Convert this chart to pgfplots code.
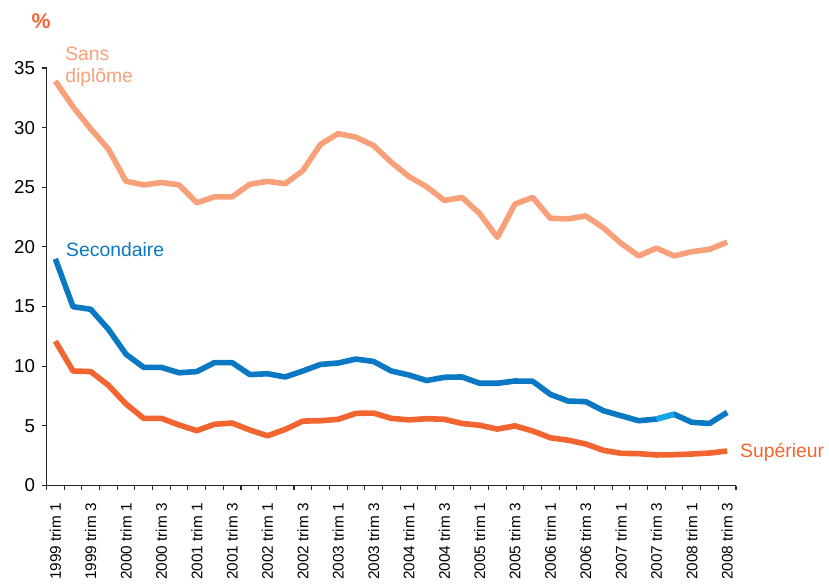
\documentclass[border=0pt]{standalone}
\usepackage{pgfplots}
\pgfplotsset{compat=1.18}
\usepackage{fontspec}
\setmainfont{Liberation Sans}
\definecolor{sansc}{HTML}{F7A07A}
\definecolor{secc}{HTML}{0A78C2}
\definecolor{secl}{HTML}{12A8E8}
\definecolor{supc}{HTML}{F26531}
\begin{document}
\begin{tikzpicture}[x=1pt,y=1pt]
\path[use as bounding box] (-34.875,-73.125) rectangle (586.875,364.125);
\begin{axis}[
  at={(0,0)}, anchor=south west,
  scale only axis, width=517.125pt, height=313.125pt,
  xmin=-0.5, xmax=38.5, ymin=0, ymax=35,
  axis x line=bottom, axis y line=left,
  axis line style={-, line width=0.8pt, black!85},
  clip=false,
  ytick={0,5,...,35},
  yticklabel style={font=\fontsize{14}{14}\selectfont, anchor=east, inner sep=0pt, xshift=-5.5pt},
  ytick style={line width=0.8pt, black!85},
  tick align=outside,
  major tick length=3pt,
  xtick={0,2,...,38},
  xticklabels={1999 trim 1,1999 trim 3,2000 trim 1,2000 trim 3,2001 trim 1,2001 trim 3,2002 trim 1,2002 trim 3,2003 trim 1,2003 trim 3,2004 trim 1,2004 trim 3,2005 trim 1,2005 trim 3,2006 trim 1,2006 trim 3,2007 trim 1,2007 trim 3,2008 trim 1,2008 trim 3},
  x tick style={draw=none},
  minor xtick={-0.5,0.5,...,38.5},
  minor x tick style={draw=black!85, line width=0.8pt},
  minor tick length=3pt,
  xticklabel style={font=\fontsize{11.5}{11.5}\selectfont, rotate=90, anchor=east, inner sep=0pt},
  xticklabel shift=10pt,
  /pgf/number format/assume math mode=true,
]
\addplot[sansc, line width=4.2pt, line join=round] coordinates {
(0,33.9)(1,31.75)(2,29.9)(3,28.2)(4,25.5)(5,25.2)(6,25.4)(7,25.2)(8,23.7)(9,24.2)
(10,24.2)(11,25.25)(12,25.5)(13,25.3)(14,26.4)(15,28.6)(16,29.5)(17,29.2)(18,28.5)(19,27.1)
(20,25.9)(21,25.05)(22,23.9)(23,24.15)(24,22.8)(25,20.8)(26,23.6)(27,24.15)(28,22.4)(29,22.35)
(30,22.6)(31,21.6)(32,20.3)(33,19.25)(34,19.9)(35,19.25)(36,19.6)(37,19.8)(38,20.4)};
\addplot[secc, line width=4.2pt, line join=round] coordinates {
(0,19.0)(1,14.99)(2,14.77)(3,13.1)(4,11.0)(5,9.9)(6,9.9)(7,9.45)(8,9.55)(9,10.3)
(10,10.3)(11,9.3)(12,9.37)(13,9.1)(14,9.6)(15,10.15)(16,10.27)(17,10.6)(18,10.4)(19,9.6)
(20,9.26)(21,8.8)(22,9.07)(23,9.1)(24,8.57)(25,8.57)(26,8.76)(27,8.74)(28,7.64)(29,7.08)
(30,7.03)(31,6.27)(32,5.85)(33,5.43)(34,5.57)(35,5.97)(36,5.3)(37,5.2)(38,6.13)};
\addplot[secl, line width=4.2pt] coordinates {(34,5.57)(35,5.97)};
\addplot[supc, line width=4.2pt, line join=round] coordinates {
(0,12.1)(1,9.6)(2,9.55)(3,8.4)(4,6.83)(5,5.63)(6,5.63)(7,5.07)(8,4.6)(9,5.13)
(10,5.24)(11,4.65)(12,4.17)(13,4.7)(14,5.4)(15,5.43)(16,5.55)(17,6.05)(18,6.07)(19,5.63)
(20,5.5)(21,5.6)(22,5.55)(23,5.2)(24,5.05)(25,4.73)(26,5.0)(27,4.57)(28,4.0)(29,3.8)
(30,3.48)(31,2.95)(32,2.7)(33,2.67)(34,2.56)(35,2.58)(36,2.64)(37,2.72)(38,2.89)};
\end{axis}
\node[text=supc, font=\bfseries\fontsize{16}{16}\selectfont, inner sep=0pt] at (-4.1,348.4) {\%};
\node[text=sansc, font=\fontsize{14.5}{14.5}\selectfont, anchor=base west, inner sep=0pt] at (13.9,319.1) {Sans};
\node[text=sansc, font=\fontsize{14.5}{14.5}\selectfont, anchor=base west, inner sep=0pt] at (13.9,301.9) {diplôme};
\node[text=secc, font=\fontsize{14.5}{14.5}\selectfont, anchor=base west, inner sep=0pt] at (14.6,171.6) {Secondaire};
\node[text=supc, font=\fontsize{14.5}{14.5}\selectfont, anchor=base west, inner sep=0pt] at (520.1,20.9) {Supérieur};
\end{tikzpicture}
\end{document}
